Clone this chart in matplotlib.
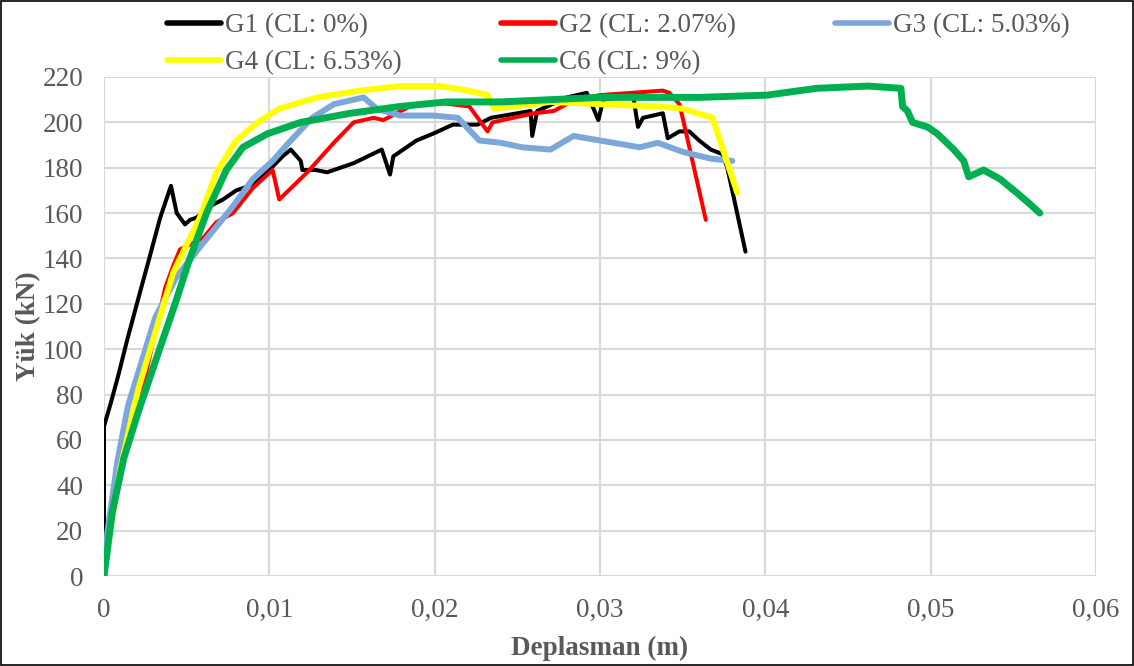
import matplotlib
matplotlib.use("Agg")
import matplotlib.pyplot as plt
from matplotlib.patches import Rectangle
from matplotlib.ticker import FuncFormatter, MultipleLocator

plt.rcParams["font.family"] = ["Liberation Serif", "DejaVu Serif"]

# --- data (displacement in m, load in kN) ---
g1_x = [0.0, 0.0, 0.0004, 0.00085, 0.0014, 0.0021, 0.0027, 0.0034, 0.00405, 0.0044, 0.0046,
        0.0049, 0.0052, 0.0056, 0.0064, 0.0072, 0.0080, 0.0088, 0.0100, 0.0108, 0.0113,
        0.0119, 0.0120, 0.0128, 0.0135, 0.0151, 0.0168, 0.0173, 0.0175, 0.0189, 0.0199,
        0.0211, 0.0226, 0.0234, 0.0258, 0.0259, 0.0262, 0.0280, 0.0292, 0.0299, 0.0302,
        0.0320, 0.0323, 0.0326, 0.0338, 0.0341, 0.0348, 0.0354, 0.0360, 0.0367, 0.0374,
        0.0377, 0.0388]
g1_y = [0, 66, 76, 88, 104, 123, 139, 158, 172, 160, 158,
        155, 157, 158, 163, 166, 170, 172, 179, 185, 188,
        183, 179, 179, 178, 182, 188, 177, 185, 192, 195,
        199, 199, 202, 205, 194, 205, 211, 213, 201, 210,
        212, 198, 202, 204, 193, 196, 196, 192, 188, 186,
        180, 143]

g2_x = [0.0, 0.0002, 0.0010, 0.0025, 0.0037, 0.0042, 0.0046, 0.0060, 0.0068, 0.0078,
        0.0090, 0.0102, 0.0106, 0.0123, 0.0139, 0.0151, 0.0163, 0.0169, 0.0185, 0.0199,
        0.0221, 0.0232, 0.0235, 0.0260, 0.0272, 0.0285, 0.0300, 0.0338, 0.0342, 0.0348,
        0.0350, 0.0364]
g2_y = [0, 19, 50, 88, 127, 137, 144, 149, 156, 160,
        171, 179, 166, 178, 191, 200, 202, 201, 207, 209,
        207, 196, 200, 204, 205, 210, 212, 214, 213, 208,
        202, 157]

g3_x = [0.0, 0.0002, 0.0008, 0.00145, 0.0031, 0.0044, 0.0058, 0.0078, 0.0090, 0.0102,
        0.0113, 0.0126, 0.0139, 0.0157, 0.0165, 0.0179, 0.0199, 0.0214, 0.0227, 0.0240,
        0.0253, 0.0270, 0.0284, 0.0300, 0.0324, 0.0335, 0.0350, 0.0367, 0.0380]
g3_y = [0, 19, 50, 75, 114, 132, 145, 163, 175, 183,
        192, 202, 208, 211, 206, 203, 203, 202, 192, 191,
        189, 188, 194, 192, 189, 191, 187, 184, 183]

g4_x = [0.0, 0.0001, 0.0010, 0.0021, 0.0037, 0.0042, 0.0058, 0.0068, 0.0080, 0.0093,
        0.0106, 0.0129, 0.0155, 0.0179, 0.0203, 0.0220, 0.0232, 0.0236, 0.0270, 0.0300,
        0.0336, 0.0350, 0.0368, 0.0383]
g4_y = [0, 7, 48, 83, 122, 134, 158, 178, 192, 200,
        206, 211, 214, 216, 216, 214, 212, 206, 209, 208,
        207, 206, 202, 169]

c6_x = [0.0, 0.0005, 0.0012, 0.0021, 0.0035, 0.0043, 0.0051, 0.0062, 0.0074, 0.0084,
        0.0099, 0.0119, 0.0149, 0.0179, 0.0207, 0.0240, 0.0300, 0.0360, 0.0401, 0.0431,
        0.0462, 0.0482, 0.0483, 0.0486, 0.0489, 0.0498, 0.0504, 0.0514, 0.0520, 0.0523,
        0.0532, 0.0542, 0.0552, 0.0560, 0.0566]
c6_y = [0, 28, 52, 73, 103, 120, 138, 160, 179, 189,
        195, 200, 204, 207, 209, 209, 211, 211, 212, 215,
        216, 215, 207, 205, 200, 198, 195, 188, 183, 176,
        179, 175, 169, 164, 160]

series_labels = ["G1 (CL: 0%)", "G2 (CL: 2.07%)", "G3 (CL: 5.03%)",
                 "G4 (CL: 6.53%)", "C6 (CL: 9%)"]
series_colors = ["#000000", "#FF0000", "#7BA7DA", "#FFFF00", "#00B050"]
series_widths = [2.9, 2.9, 4.3, 4.3, 5.0]

x_ticks = [0, 0.01, 0.02, 0.03, 0.04, 0.05, 0.06]

text_gray = "#595959"
grid_gray = "#D9D9D9"
FS = 19.5

fig = plt.figure(figsize=(11.34, 6.66), dpi=100)
ax = fig.add_axes([0.0917, 0.1351, 0.8748, 0.7493])

all_x = [g1_x, g2_x, g3_x, g4_x, c6_x]
all_y = [g1_y, g2_y, g3_y, g4_y, c6_y]
for xs, ys, lab, col, lw in zip(all_x, all_y, series_labels, series_colors, series_widths):
    ax.plot(xs, ys, color=col, linewidth=lw, label=lab,
            solid_joinstyle="round", solid_capstyle="round")

ax.set_xlim(0, 0.06)
ax.set_ylim(0, 220)
ax.set_xticks(x_ticks)
ax.yaxis.set_major_locator(MultipleLocator(20))
ax.xaxis.set_major_formatter(FuncFormatter(lambda v, p: "0" if v == 0 else f"{v:.2f}".replace(".", ",")))

ax.grid(True, color=grid_gray, linewidth=1.5)
ax.set_axisbelow(True)
for s in ax.spines.values():
    s.set_visible(False)
ax.tick_params(length=0, labelsize=FS, colors=text_gray)
ax.tick_params(axis="x", pad=16)
ax.tick_params(axis="y", pad=15)

ax.set_xlabel("Deplasman (m)", fontsize=FS, fontweight="bold", color=text_gray, labelpad=9)
ax.set_ylabel("Yük (kN)", fontsize=FS, fontweight="bold", color=text_gray, labelpad=1)

# legend is filled row by row in the reference; matplotlib fills by column
handles, labels = ax.get_legend_handles_labels()
order = [0, 3, 1, 4, 2]
leg = fig.legend([handles[i] for i in order], [labels[i] for i in order],
                 loc="upper left", bbox_to_anchor=(167 / 1134, 1 - 13 / 666), ncol=3,
                 frameon=False, fontsize=FS, handlelength=2.0, handletextpad=0.15,
                 columnspacing=3.65, labelspacing=0.45, borderpad=0, borderaxespad=0,
                 labelcolor=text_gray)
for h in leg.legend_handles:
    h.set_linewidth(4)

# outer border of the chart
fig.patches.append(Rectangle((0.001, 0.0015), 0.998, 0.997, transform=fig.transFigure,
                             fill=False, edgecolor="black", linewidth=1.2))

fig.savefig("out.png", dpi=100)
